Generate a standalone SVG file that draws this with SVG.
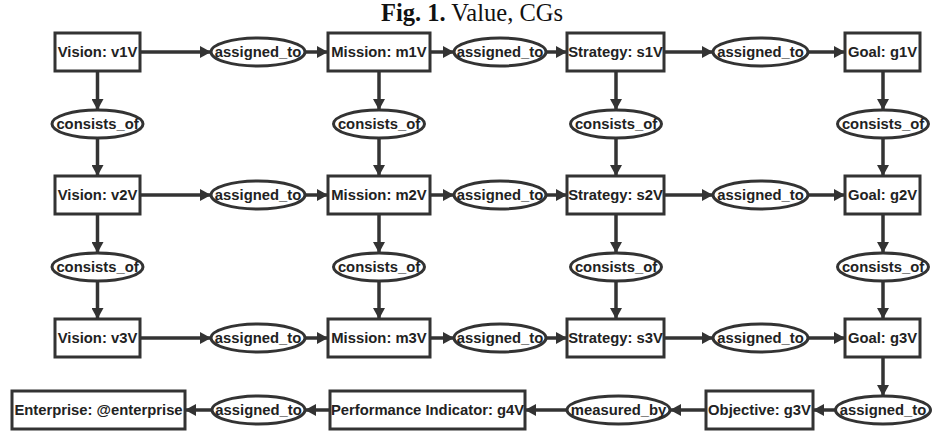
<svg xmlns="http://www.w3.org/2000/svg" width="935" height="435" viewBox="0 0 935 435">
<defs>
<style>
.box{fill:#fff;stroke:#333;stroke-width:3}
.ell{fill:#fff;stroke:#333;stroke-width:3}
.t{font-family:"Liberation Sans",Arial,sans-serif;font-weight:bold;font-size:14.8px;fill:#222;text-anchor:middle;dominant-baseline:central}
.e{fill:none;stroke:#333;stroke-width:3.5;marker-end:url(#ah)}
.title{font-family:"Liberation Serif","DejaVu Serif",serif;font-size:24.5px;fill:#111;text-anchor:middle}
</style>
<marker id="ah" markerUnits="userSpaceOnUse" markerWidth="12" markerHeight="12" refX="11" refY="6" orient="auto">
<path d="M0,0 L11,6 L0,12 z" fill="#333"/>
</marker>
</defs>
<rect width="935" height="435" fill="#fff"/>
<text class="title" x="472" y="21"><tspan font-weight="bold">Fig. 1.</tspan> Value, CGs</text>

<g id="connectors">
<line class="e" x1="140" y1="52" x2="211" y2="52"/>
<line class="e" x1="305" y1="52" x2="328" y2="52"/>
<line class="e" x1="430" y1="52" x2="454" y2="52"/>
<line class="e" x1="546" y1="52" x2="567" y2="52"/>
<line class="e" x1="664" y1="52" x2="713" y2="52"/>
<line class="e" x1="808" y1="52" x2="845" y2="52"/>
<line class="e" x1="140" y1="195" x2="211" y2="195"/>
<line class="e" x1="305" y1="195" x2="328" y2="195"/>
<line class="e" x1="430" y1="195" x2="454" y2="195"/>
<line class="e" x1="546" y1="195" x2="567" y2="195"/>
<line class="e" x1="664" y1="195" x2="713" y2="195"/>
<line class="e" x1="808" y1="195" x2="845" y2="195"/>
<line class="e" x1="140" y1="338" x2="211" y2="338"/>
<line class="e" x1="305" y1="338" x2="328" y2="338"/>
<line class="e" x1="430" y1="338" x2="454" y2="338"/>
<line class="e" x1="546" y1="338" x2="567" y2="338"/>
<line class="e" x1="664" y1="338" x2="713" y2="338"/>
<line class="e" x1="808" y1="338" x2="845" y2="338"/>
<line class="e" x1="97.5" y1="71" x2="97.5" y2="110"/>
<line class="e" x1="97.5" y1="138" x2="97.5" y2="176"/>
<line class="e" x1="97.5" y1="214" x2="97.5" y2="253"/>
<line class="e" x1="97.5" y1="281" x2="97.5" y2="319"/>
<line class="e" x1="379" y1="71" x2="379" y2="110"/>
<line class="e" x1="379" y1="138" x2="379" y2="176"/>
<line class="e" x1="379" y1="214" x2="379" y2="253"/>
<line class="e" x1="379" y1="281" x2="379" y2="319"/>
<line class="e" x1="616" y1="71" x2="616" y2="110"/>
<line class="e" x1="616" y1="138" x2="616" y2="176"/>
<line class="e" x1="616" y1="214" x2="616" y2="253"/>
<line class="e" x1="616" y1="281" x2="616" y2="319"/>
<line class="e" x1="883" y1="71" x2="883" y2="110"/>
<line class="e" x1="883" y1="138" x2="883" y2="176"/>
<line class="e" x1="883" y1="214" x2="883" y2="253"/>
<line class="e" x1="883" y1="281" x2="883" y2="319"/>
<line class="e" x1="883" y1="357" x2="883" y2="396"/>
<line class="e" x1="835" y1="410" x2="813" y2="410"/>
<line class="e" x1="706" y1="410" x2="670" y2="410"/>
<line class="e" x1="567" y1="410" x2="525" y2="410"/>
<line class="e" x1="330" y1="410" x2="305" y2="410"/>
<line class="e" x1="212" y1="410" x2="185" y2="410"/>
</g>

<g id="v1"><rect class="box" x="55" y="33" width="85" height="38"/><text class="t" x="97.5" y="52">Vision: v1V</text></g>
<g id="m1"><rect class="box" x="328" y="33" width="102" height="38"/><text class="t" x="379" y="52">Mission: m1V</text></g>
<g id="s1"><rect class="box" x="567" y="33" width="97" height="38"/><text class="t" x="615.5" y="52">Strategy: s1V</text></g>
<g id="g1"><rect class="box" x="845" y="33" width="75" height="38"/><text class="t" x="882.5" y="52">Goal: g1V</text></g>
<g id="a11"><ellipse class="ell" cx="258" cy="52" rx="47" ry="14"/><text class="t" x="258" y="52">assigned_to</text></g>
<g id="a12"><ellipse class="ell" cx="500" cy="52" rx="46" ry="14"/><text class="t" x="500" y="52">assigned_to</text></g>
<g id="a13"><ellipse class="ell" cx="760.5" cy="52" rx="47.5" ry="14"/><text class="t" x="760.5" y="52">assigned_to</text></g>
<g id="c11"><ellipse class="ell" cx="97.5" cy="124" rx="45.5" ry="14"/><text class="t" x="97.5" y="124">consists_of</text></g>
<g id="c12"><ellipse class="ell" cx="379" cy="124" rx="45.5" ry="14"/><text class="t" x="379" y="124">consists_of</text></g>
<g id="c13"><ellipse class="ell" cx="616" cy="124" rx="45.5" ry="14"/><text class="t" x="616" y="124">consists_of</text></g>
<g id="c14"><ellipse class="ell" cx="883" cy="124" rx="45.5" ry="14"/><text class="t" x="883" y="124">consists_of</text></g>

<g id="v2"><rect class="box" x="55" y="176" width="85" height="38"/><text class="t" x="97.5" y="195">Vision: v2V</text></g>
<g id="m2"><rect class="box" x="328" y="176" width="102" height="38"/><text class="t" x="379" y="195">Mission: m2V</text></g>
<g id="s2"><rect class="box" x="567" y="176" width="97" height="38"/><text class="t" x="615.5" y="195">Strategy: s2V</text></g>
<g id="g2"><rect class="box" x="845" y="176" width="75" height="38"/><text class="t" x="882.5" y="195">Goal: g2V</text></g>
<g id="a21"><ellipse class="ell" cx="258" cy="195" rx="47" ry="14"/><text class="t" x="258" y="195">assigned_to</text></g>
<g id="a22"><ellipse class="ell" cx="500" cy="195" rx="46" ry="14"/><text class="t" x="500" y="195">assigned_to</text></g>
<g id="a23"><ellipse class="ell" cx="760.5" cy="195" rx="47.5" ry="14"/><text class="t" x="760.5" y="195">assigned_to</text></g>
<g id="c21"><ellipse class="ell" cx="97.5" cy="267" rx="45.5" ry="14"/><text class="t" x="97.5" y="267">consists_of</text></g>
<g id="c22"><ellipse class="ell" cx="379" cy="267" rx="45.5" ry="14"/><text class="t" x="379" y="267">consists_of</text></g>
<g id="c23"><ellipse class="ell" cx="616" cy="267" rx="45.5" ry="14"/><text class="t" x="616" y="267">consists_of</text></g>
<g id="c24"><ellipse class="ell" cx="883" cy="267" rx="45.5" ry="14"/><text class="t" x="883" y="267">consists_of</text></g>

<g id="v3"><rect class="box" x="55" y="319" width="85" height="38"/><text class="t" x="97.5" y="338">Vision: v3V</text></g>
<g id="m3"><rect class="box" x="328" y="319" width="102" height="38"/><text class="t" x="379" y="338">Mission: m3V</text></g>
<g id="s3"><rect class="box" x="567" y="319" width="97" height="38"/><text class="t" x="615.5" y="338">Strategy: s3V</text></g>
<g id="g3"><rect class="box" x="845" y="319" width="75" height="38"/><text class="t" x="882.5" y="338">Goal: g3V</text></g>
<g id="a31"><ellipse class="ell" cx="258" cy="338" rx="47" ry="14"/><text class="t" x="258" y="338">assigned_to</text></g>
<g id="a32"><ellipse class="ell" cx="500" cy="338" rx="46" ry="14"/><text class="t" x="500" y="338">assigned_to</text></g>
<g id="a33"><ellipse class="ell" cx="760.5" cy="338" rx="47.5" ry="14"/><text class="t" x="760.5" y="338">assigned_to</text></g>

<g id="ent"><rect class="box" x="12" y="391" width="173" height="38"/><text class="t" x="98.5" y="410">Enterprise: @enterprise</text></g>
<g id="a41"><ellipse class="ell" cx="258.5" cy="410" rx="46.5" ry="14"/><text class="t" x="258.5" y="410">assigned_to</text></g>
<g id="pi"><rect class="box" x="330" y="391" width="195" height="38"/><text class="t" x="427.5" y="410">Performance Indicator: g4V</text></g>
<g id="mb"><ellipse class="ell" cx="618.5" cy="410" rx="51.5" ry="14"/><text class="t" x="618.5" y="410">measured_by</text></g>
<g id="obj"><rect class="box" x="706" y="391" width="107" height="38"/><text class="t" x="759.5" y="410">Objective: g3V</text></g>
<g id="a42"><ellipse class="ell" cx="883" cy="410" rx="47.5" ry="14"/><text class="t" x="883" y="410">assigned_to</text></g>
</svg>
